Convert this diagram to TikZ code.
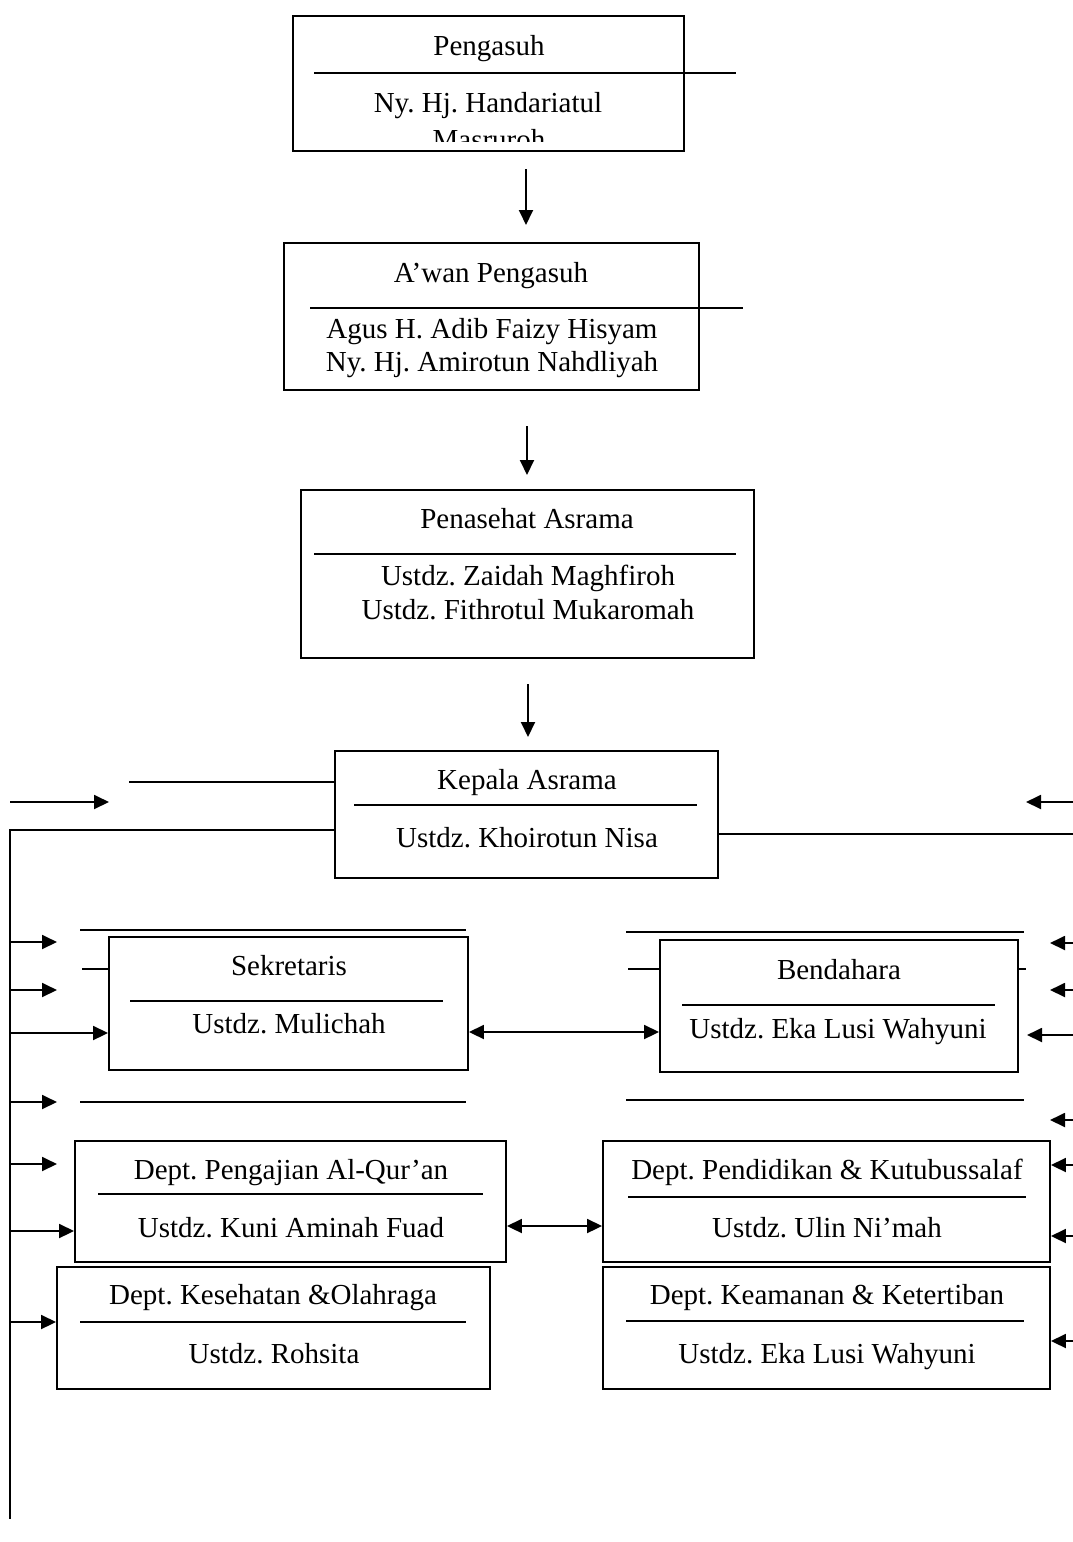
\documentclass[tikz,border=0pt]{standalone}
\usepackage{fontspec}
\setmainfont{Liberation Serif}
\usetikzlibrary{arrows.meta}
\frenchspacing
\begin{document}
\begin{tikzpicture}[x=1pt,y=-1pt,
  ln/.style={line width=1.9pt,black},
  box/.style={draw,line width=1.9pt,rectangle,inner sep=0pt},
  txt/.style={inner sep=0pt,anchor=base,font=\fontsize{29}{34}\selectfont},
  arr/.style={ln,-{Triangle[length=15pt,width=14pt]}},
  darr/.style={ln,{Triangle[length=15pt,width=14pt]}-{Triangle[length=15pt,width=14pt]}}]
\useasboundingbox[fill=white] (0,0) rectangle (1073,1542);

% ---------- boxes ----------
\node[box,minimum width=391pt,minimum height=135pt] (pengasuh) at (488.5,83.5) {};
\node[box,minimum width=415pt,minimum height=147pt] (awan) at (491.5,316.5) {};
\node[box,minimum width=453pt,minimum height=168pt] (penasehat) at (527.5,574) {};
\node[box,minimum width=383pt,minimum height=127pt] (kepala) at (526.5,814.5) {};
\node[box,minimum width=359pt,minimum height=133pt] (sekretaris) at (288.5,1003.5) {};
\node[box,minimum width=358pt,minimum height=132pt] (bendahara) at (839,1006) {};
\node[box,minimum width=431pt,minimum height=121pt] (pengajian) at (290.5,1201.5) {};
\node[box,minimum width=447pt,minimum height=121pt] (pendidikan) at (826.5,1201.5) {};
\node[box,minimum width=433pt,minimum height=122pt] (kesehatan) at (273.5,1328) {};
\node[box,minimum width=447pt,minimum height=122pt] (keamanan) at (826.5,1328) {};

% ---------- dividers ----------
\coordinate (d1a) at (314,73);   \coordinate (d1b) at (736,73);
\coordinate (d2a) at (310,308);  \coordinate (d2b) at (743,308);
\coordinate (d3a) at (314,554);  \coordinate (d3b) at (736,554);
\coordinate (d4a) at (354,805);  \coordinate (d4b) at (697,805);
\coordinate (d5a) at (130,1001); \coordinate (d5b) at (443,1001);
\coordinate (d6a) at (682,1005); \coordinate (d6b) at (995,1005);
\coordinate (d7a) at (98,1194);  \coordinate (d7b) at (483,1194);
\coordinate (d8a) at (628,1197); \coordinate (d8b) at (1026,1197);
\coordinate (d9a) at (80,1322);  \coordinate (d9b) at (466,1322);
\coordinate (d10a) at (626,1321); \coordinate (d10b) at (1024,1321);
\foreach \d in {d1,d2,d3,d4,d5,d6,d7,d8,d9,d10}{\draw[ln] (\d a) -- (\d b);}

% ---------- texts ----------
\node[txt] (t1) at (489,55) {Pengasuh};
\node[txt] (t2) at (488,112) {Ny. Hj. Handariatul};
\begin{scope}
  \clip (293,16) rectangle (684,141);
  \node[txt] (t3) at (489,149) {Masruroh};
\end{scope}
\node[txt] (t4) at (491,282) {A’wan Pengasuh};
\node[txt] (t5) at (492,338) {Agus H. Adib Faizy Hisyam};
\node[txt] (t6) at (492,371) {Ny. Hj. Amirotun Nahdliyah};
\node[txt] (t7) at (527,528) {Penasehat Asrama};
\node[txt] (t8) at (528,585) {Ustdz. Zaidah Maghfiroh};
\node[txt] (t9) at (528,619) {Ustdz. Fithrotul Mukaromah};
\node[txt] (t10) at (527,789) {Kepala Asrama};
\node[txt] (t11) at (527,847) {Ustdz. Khoirotun Nisa};
\node[txt] (t12) at (289,975) {Sekretaris};
\node[txt] (t13) at (289,1033) {Ustdz. Mulichah};
\node[txt] (t14) at (839,979) {Bendahara};
\node[txt] (t15) at (838,1038) {Ustdz. Eka Lusi Wahyuni};
\node[txt] (t16) at (291,1179) {Dept. Pengajian Al-Qur’an};
\node[txt] (t17) at (291,1237) {Ustdz. Kuni Aminah Fuad};
\node[txt] (t18) at (827,1179) {Dept. Pendidikan \& Kutubussalaf};
\node[txt] (t19) at (827,1237) {Ustdz. Ulin Ni’mah};
\node[txt] (t20) at (273,1304) {Dept. Kesehatan \&Olahraga};
\node[txt] (t21) at (274,1363) {Ustdz. Rohsita};
\node[txt] (t22) at (827,1304) {Dept. Keamanan \& Ketertiban};
\node[txt] (t23) at (827,1363) {Ustdz. Eka Lusi Wahyuni};

% ---------- vertical arrows ----------
\coordinate (v1a) at (526,169); \coordinate (v1b) at (526,225);
\coordinate (v2a) at (527,426); \coordinate (v2b) at (527,475);
\coordinate (v3a) at (528,684); \coordinate (v3b) at (528,737);
\draw[arr] (v1a) -- (v1b);
\draw[arr] (v2a) -- (v2b);
\draw[arr] (v3a) -- (v3b);

% ---------- left trunk ----------
\coordinate (tkTop) at (10,830);
\coordinate (tkBot) at (10,1519);
\draw[ln] (tkTop -| kepala.west) -- (tkTop) -- (tkBot);
\coordinate (kl) at (129,782);
\draw[ln] (kl) -- (kl -| kepala.west);
\coordinate (la0a) at (10,802); \coordinate (la0b) at (109,802);
\draw[arr] (la0a) -- (la0b);
\foreach \yy in {942,990,1102,1164}{\draw[arr] (10,\yy) coordinate (s\yy) -- (57,\yy) coordinate (e\yy);}
\coordinate (ls) at (10,1033);
\draw[arr] (ls) -- (ls -| sekretaris.west);
\coordinate (lp) at (10,1231);
\draw[arr] (lp) -- (lp -| pengajian.west);
\coordinate (lk) at (10,1322);
\draw[arr] (lk) -- (lk -| kesehatan.west);

% ---------- free lines, left column ----------
\coordinate (f1a) at (80,930);  \coordinate (f1b) at (466,930);
\coordinate (f2a) at (80,1102); \coordinate (f2b) at (466,1102);
\draw[ln] (f1a) -- (f1b);
\draw[ln] (f2a) -- (f2b);
\coordinate (st1) at (82,969);
\draw[ln] (st1) -- (st1 -| sekretaris.west);

% ---------- free lines, right column ----------
\coordinate (g1a) at (626,932);  \coordinate (g1b) at (1024,932);
\coordinate (g2a) at (626,1100); \coordinate (g2b) at (1024,1100);
\draw[ln] (g1a) -- (g1b);
\draw[ln] (g2a) -- (g2b);
\coordinate (st2) at (628,969);
\draw[ln] (st2) -- (st2 -| bendahara.west);
\coordinate (st3) at (1026,969);
\draw[ln] (st3 -| bendahara.east) -- (st3);

% ---------- right side ----------
\coordinate (kr) at (1073,834);
\draw[ln] (kr -| kepala.east) -- (kr);
\coordinate (ra0a) at (1073,802); \coordinate (ra0b) at (1026,802);
\draw[arr] (ra0a) -- (ra0b);
\foreach \yy in {943,990,1120}{\draw[arr] (1073,\yy) coordinate (r\yy) -- (1050,\yy) coordinate (q\yy);}
\coordinate (rb) at (1073,1035); \coordinate (rbe) at (1027,1035);
\draw[arr] (rb) -- (rbe);
\coordinate (rp1) at (1073,1165);
\draw[arr] (rp1) -- (rp1 -| pendidikan.east);
\coordinate (rp2) at (1073,1236);
\draw[arr] (rp2) -- (rp2 -| pendidikan.east);
\coordinate (rk) at (1073,1341);
\draw[arr] (rk) -- (rk -| keamanan.east);

% ---------- two-way links ----------
\coordinate (sb) at (0,1032);
\draw[darr] (sb -| sekretaris.east) -- (sb -| bendahara.west);
\coordinate (pp) at (0,1226);
\draw[darr] (pp -| pengajian.east) -- (pp -| pendidikan.west);
\end{tikzpicture}
\end{document}
